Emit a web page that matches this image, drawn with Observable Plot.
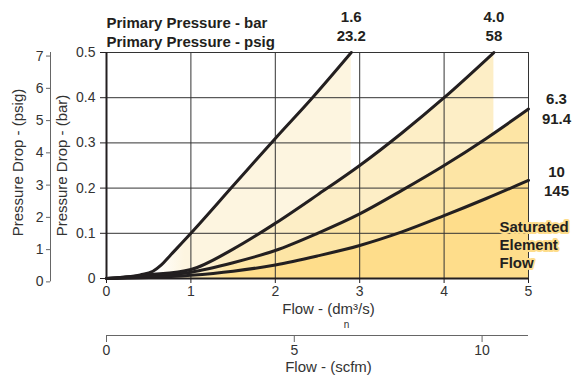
<!DOCTYPE html>
<html><head><meta charset="utf-8">
<script src="https://cdn.jsdelivr.net/npm/d3@7"></script>
<script src="https://cdn.jsdelivr.net/npm/@observablehq/plot@0.6"></script>
<style>body{margin:0;background:#fff} #chart{width:584px;height:378px}</style>
</head><body><div id="chart"></div>
<script>
// Primary pressure labels (bar / psig)
const pressureBar = ["1.6", "4.0", "6.3", "10"];
const pressurePsig = ["23.2", "58", "91.4", "145"];
// Curves: flow (dm3/s) and pressure drop (bar)
const flow1 = [0, 0.2, 0.4, 0.55, 0.65, 0.75, 1, 1.5, 2, 2.44, 2.9];
const drop1 = [0, 0.003, 0.008, 0.016, 0.03, 0.05, 0.1, 0.205, 0.31, 0.4, 0.5];
const flow2 = [0, 0.5, 1, 1.5, 2, 2.5, 3, 3.5, 4, 4.59];
const drop2 = [0, 0.008, 0.02, 0.065, 0.122, 0.185, 0.25, 0.322, 0.4, 0.5];
const flow3 = [0, 0.5, 1, 1.5, 2, 2.5, 3, 3.5, 4, 4.5, 5];
const drop3 = [0, 0.005, 0.014, 0.035, 0.062, 0.1, 0.143, 0.195, 0.25, 0.31, 0.375];
const flow4 = [0, 0.5, 1, 1.5, 2, 2.5, 3, 3.5, 4, 4.5, 5];
const drop4 = [0, 0.002, 0.007, 0.016, 0.03, 0.05, 0.073, 0.103, 0.139, 0.177, 0.217];
// Axis ticks
const flowTicks = [0, 1, 2, 3, 4, 5];
const barTicks = [0, 0.1, 0.2, 0.3, 0.4, 0.5];
const psigTicks = [0, 1, 2, 3, 4, 5, 6, 7];
const scfmTicks = [0, 5, 10];
const satLabel = "Saturated\nElement\nFlow";

// scale relations as drawn on the chart
const psigToBar = p => -0.0075 + 0.07137 * p;
const scfmToDm = s => s * 0.445;

const fills = ["#fdf5e0", "#fdeec6", "#fde5a5", "#fedd8b"];
const curves = [[flow1, drop1], [flow2, drop2], [flow3, drop3], [flow4, drop4]]
  .map(([f, d]) => f.map((x, i) => ({x, y: d[i]})));

const font = "Liberation Sans, Arial, Helvetica, sans-serif";
const ink = "#231f20";
const grey = "#333";

const marks = [];
curves.forEach((c, i) => marks.push(Plot.areaY(c, {x: "x", y: "y", fill: `url(#g${i})`, curve: "monotone-x"})));
marks.push(Plot.ruleX(flowTicks.slice(1), {stroke: "#333", strokeWidth: 1}));
marks.push(Plot.ruleY(barTicks.slice(1), {stroke: "#333", strokeWidth: 1}));
curves.forEach(c => marks.push(Plot.line(c, {x: "x", y: "y", stroke: ink, strokeWidth: 3, curve: "monotone-x"})));
marks.push(Plot.ruleX([0], {stroke: ink, strokeWidth: 2}));
marks.push(Plot.ruleY([0], {x1: 0, x2: 5, stroke: ink, strokeWidth: 2}));
// main axes
marks.push(Plot.axisX(flowTicks, {tickSize: 5, tickPadding: 3, fontSize: 14, color: grey, stroke: ink, label: null}));
marks.push(Plot.axisY(barTicks, {tickSize: 6, tickPadding: 5, fontSize: 14, color: grey, stroke: ink, label: null,
  tickFormat: d => d === 0 ? "0" : d.toFixed(1)}));
// psig axis
marks.push(Plot.ruleX([0], {y1: psigToBar(0), y2: 0.5, dx: -56, stroke: "#666", strokeWidth: 1}));
marks.push(Plot.axisY(psigTicks.map(psigToBar), {dx: -56, tickSize: 4, tickPadding: 3, fontSize: 14, color: grey, stroke: "#666", label: null,
  tickFormat: d => String(Math.round((d + 0.0075) / 0.07137))}));
// scfm axis
marks.push(Plot.ruleY([0], {x1: 0, x2: 5, dy: 57, stroke: "#666", strokeWidth: 1}));
marks.push(Plot.axisX(scfmTicks.map(scfmToDm), {dy: 57, tickSize: 7, tickPadding: 3, fontSize: 14, color: grey, stroke: "#666", label: null,
  tickFormat: d => String(Math.round(d / 0.445))}));
// axis titles
marks.push(Plot.text(["Flow - (dm³/s)"], {frameAnchor: "bottom", dx: 11, dy: 35, fontSize: 15, fill: grey}));
marks.push(Plot.text(["n"], {frameAnchor: "bottom", dx: 29, dy: 49, fontSize: 10, fill: grey}));
marks.push(Plot.text(["Flow - (scfm)"], {frameAnchor: "bottom", dx: 11, dy: 93, fontSize: 15, fill: grey}));
marks.push(Plot.text(["Pressure Drop - (psig)"], {x: () => 0, y: () => 0.25, rotate: -90, dx: -88, dy: -3, fontSize: 15, fill: grey}));
marks.push(Plot.text(["Pressure Drop - (bar)"], {x: () => 0, y: () => 0.25, rotate: -90, dx: -44, dy: 0, fontSize: 15, fill: grey}));
// header
marks.push(Plot.text(["Primary Pressure - bar"], {frameAnchor: "top-left", textAnchor: "start", dy: -35, fontSize: 15, fontWeight: "bold", fill: ink}));
marks.push(Plot.text(["Primary Pressure - psig"], {frameAnchor: "top-left", textAnchor: "start", dy: -16, fontSize: 15, fontWeight: "bold", fill: ink}));
// curve labels
const ends = curves.map(c => c[c.length - 1]);
[0, 1].forEach(i => {
  marks.push(Plot.text([ends[i]], {x: "x", y: () => 0.5, text: () => pressureBar[i], dy: -35, fontSize: 15, fontWeight: "bold", fill: ink}));
  marks.push(Plot.text([ends[i]], {x: "x", y: () => 0.5, text: () => pressurePsig[i], dy: -16, fontSize: 15, fontWeight: "bold", fill: ink}));
});
[[2, -10, 10], [3, -8, 11]].forEach(([i, a, b]) => {
  marks.push(Plot.text([ends[i]], {x: "x", y: "y", text: () => pressureBar[i], dx: 28, dy: a, fontSize: 15, fontWeight: "bold", fill: ink}));
  marks.push(Plot.text([ends[i]], {x: "x", y: "y", text: () => pressurePsig[i], dx: 28, dy: b, fontSize: 15, fontWeight: "bold", fill: ink}));
});
marks.push(Plot.text([satLabel], {frameAnchor: "bottom-right", textAnchor: "start", lineAnchor: "bottom", dx: -29, dy: -11,
  lineHeight: 1.18, fontSize: 15, fontWeight: "bold", fill: ink, stroke: fills[3], strokeWidth: 4}));

const svg = Plot.plot({
  width: 584, height: 378,
  marginLeft: 106, marginRight: 56, marginTop: 52, marginBottom: 100,
  x: {domain: [0, 5]},
  y: {domain: [0, 0.5]},
  style: {fontFamily: font, background: "#fff", overflow: "visible"},
  marks
});
const defs = d3.select(svg).insert("defs", ":first-child");
const stops = [[0.2, 0.32], [0.12, 0.3], [0.1, 0.3], [0.08, 0.3]];
fills.forEach((c, i) => {
  const g = defs.append("linearGradient").attr("id", `g${i}`).attr("x1", 0).attr("x2", 1).attr("y1", 0).attr("y2", 0);
  g.append("stop").attr("offset", stops[i][0]).attr("stop-color", "#fff");
  g.append("stop").attr("offset", stops[i][1]).attr("stop-color", c);
});
document.getElementById("chart").append(svg);
</script>
</body></html>
